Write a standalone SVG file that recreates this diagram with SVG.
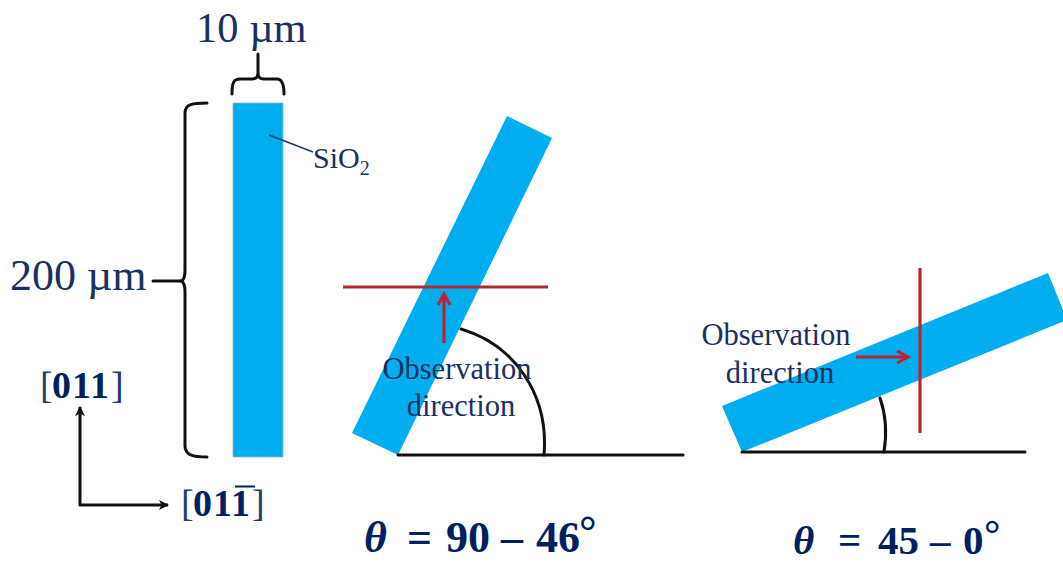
<svg xmlns="http://www.w3.org/2000/svg" width="1063" height="563" viewBox="0 0 1063 563">
<style>
.bar{fill:#00aeef}
.blk{fill:none;stroke:#111;stroke-width:3;stroke-linecap:round;stroke-linejoin:round}
.red{fill:none;stroke:#b5272f;stroke-width:3.2}
.t{font-family:"Liberation Serif",serif;fill:#1a3060}
.b{font-family:"Liberation Serif",serif;font-weight:bold;fill:#002060}
.br{font-family:"Liberation Serif",serif;fill:#1f3c70}
</style>
<defs>
<marker id="ah" markerWidth="12" markerHeight="12" refX="9" refY="5" orient="auto-start-reverse" markerUnits="userSpaceOnUse"><path d="M0,0 L10,5 L0,10 L2.5,5 Z" fill="#111"/></marker>
<marker id="rh" markerWidth="16" markerHeight="16" refX="12" refY="7" orient="auto" markerUnits="userSpaceOnUse"><path d="M1,1 L12,7 L1,13" fill="none" stroke="#c8202c" stroke-width="3"/></marker>
</defs>
<rect width="1063" height="563" fill="#fff"/>
<g id="bar-vertical"><rect class="bar" x="233" y="103" width="50" height="354" stroke="#a9b4bb" stroke-width="0.8"/></g>
<g id="bar-steep"><polygon class="bar" points="507,116 552,138 398,455 352,433"/></g>
<g id="bar-shallow"><polygon class="bar" points="1048,273 1067,320 742,452 722,406"/></g>
<g id="connectors">
<path class="blk" d="M232,94 C232,84 233,79 240,79 L252,79 C256,79 258,77 258,73 L258,54 M258,73 C258,77 260,79 264,79 L277,79 C282,79 284,84 284,94"/>
<path class="blk" d="M207,103 C193,103 185,104 185,113 L185,270 C185,277 183,281 180,281 L153,281 M180,281 C183,281 185,285 185,292 L185,446 C185,455 193,457 207,457"/>
<path d="M269,135 L313,152" fill="none" stroke="#1f3864" stroke-width="1.4"/>
<path class="blk" d="M168,505 L80,505 L80,407" marker-start="url(#ah)" marker-end="url(#ah)" style="stroke-linecap:butt"/>
<path class="blk" d="M398,455 L683,455"/>
<path class="blk" d="M461,329 C515,345 549,395 544,455"/>
<path class="blk" d="M742,452 L1025,452"/>
<path class="blk" d="M880,398 C886,415 887,433 884,452"/>
<path class="red" d="M343,287 L548,287"/>
<path class="red" d="M444,343 L444,294" marker-end="url(#rh)"/>
<path class="red" d="M920,268 L920,433"/>
<path class="red" d="M856,357 L908,357" marker-end="url(#rh)"/>
</g>
<g id="label-10um"><text class="t" x="196" y="42" font-size="42.5">10 µm</text></g>
<g id="label-200um"><text class="t" x="10" y="290" font-size="44">200 µm</text></g>
<g id="label-sio2"><text class="t" x="313" y="168" font-size="30">SiO<tspan font-size="20" dy="7">2</tspan></text></g>
<g id="label-011"><text class="br" x="40" y="398" font-size="38">[</text><text class="b" x="52" y="398" font-size="38" letter-spacing="1">011</text><text class="br" x="111" y="398" font-size="38">]</text></g>
<g id="label-01-1"><text class="br" x="181" y="516" font-size="38">[</text><text class="b" x="193" y="516" font-size="38" letter-spacing="1">011</text><text class="br" x="252" y="516" font-size="38">]</text><path d="M235,486.500 L255,486.500" stroke="#002060" stroke-width="2" fill="none"/></g>
<g id="label-obs1"><text class="t" x="457" y="379" font-size="30.500" text-anchor="middle">Observation</text><text class="t" x="461" y="416" font-size="30.500" text-anchor="middle">direction</text></g>
<g id="label-obs2"><text class="t" x="776" y="345" font-size="30.500" text-anchor="middle">Observation</text><text class="t" x="780" y="383" font-size="30.500" text-anchor="middle">direction</text></g>
<g id="label-theta1"><text class="b" x="364" y="552" font-size="44" font-style="italic">θ</text><text class="b" y="552" font-size="44"><tspan x="407">=</tspan><tspan x="446">90</tspan><tspan x="501">–</tspan><tspan x="536">46</tspan><tspan x="579" dy="-6">°</tspan></text></g>
<g id="label-theta2"><text class="b" x="793" y="554" font-size="41" font-style="italic">θ</text><text class="b" y="554" font-size="41"><tspan x="838">=</tspan><tspan x="878">45</tspan><tspan x="930">–</tspan><tspan x="963">0</tspan><tspan x="984" dy="-6">°</tspan></text></g>
</svg>
